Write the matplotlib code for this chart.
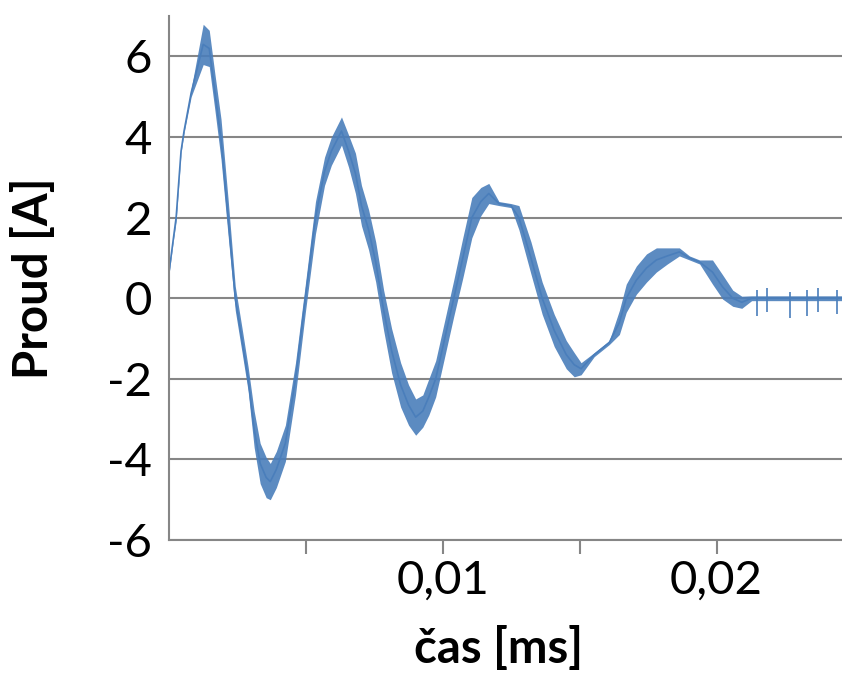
import matplotlib.pyplot as plt
import numpy as np

# cas [ms] a stredni hodnota proudu [A]
t = [0.0, 0.00015, 0.00026, 0.00044, 0.00055, 0.00081, 0.00103, 0.00125, 0.00147, 0.00168,
     0.0019, 0.00216, 0.00242, 0.00267, 0.00289, 0.00311, 0.00333, 0.00355, 0.0037, 0.00392,
     0.00425, 0.00462, 0.00498, 0.00535, 0.00568, 0.00593, 0.0063, 0.00656, 0.00681, 0.00703,
     0.00729, 0.00755, 0.00784, 0.00813, 0.00846, 0.00875, 0.00901, 0.00927, 0.00949, 0.00974,
     0.01007, 0.0104, 0.01073, 0.01106, 0.01139, 0.01168, 0.01205, 0.01249, 0.01278, 0.01322,
     0.01363, 0.01407, 0.01451, 0.0148, 0.01505, 0.01553, 0.01608, 0.01645, 0.0167, 0.01707,
     0.01744, 0.0178, 0.0182, 0.01864, 0.01901, 0.01938, 0.01985, 0.02022, 0.02059, 0.02092,
     0.02128, 0.02458]
proud = [0.64, 1.43, 2.0, 3.65, 4.15, 5.1, 5.7, 6.3, 6.2, 5.1,
         3.95, 2.0, 0.0, -1.05, -2.0, -3.25, -4.1, -4.45, -4.55, -4.25,
         -3.6, -2.0, 0.0, 2.0, 3.15, 3.65, 4.15, 3.65, 3.1, 2.3,
         1.7, 0.9, -0.3, -1.3, -2.15, -2.65, -2.95, -2.8, -2.45, -2.0,
         -1.0, 0.0, 1.0, 2.0, 2.4, 2.6, 2.35, 2.3, 2.0, 1.0,
         0.0, -0.8, -1.4, -1.65, -1.75, -1.4, -1.1, -0.6, 0.0, 0.45,
         0.75, 0.95, 1.05, 1.15, 1.0, 0.9, 0.65, 0.28, 0.0, -0.1,
         0.0, 0.0]
# sirka sumu (polovina) [A]
sum_w = [0.05, 0.05, 0.1, 0.05, 0.05, 0.1, 0.3, 0.5, 0.45, 0.45,
         0.5, 0.45, 0.3, 0.3, 0.3, 0.45, 0.5, 0.5, 0.45, 0.45,
         0.45, 0.4, 0.35, 0.4, 0.35, 0.35, 0.35, 0.4, 0.5, 0.5,
         0.5, 0.5, 0.5, 0.55, 0.55, 0.5, 0.45, 0.4, 0.45, 0.45,
         0.45, 0.45, 0.5, 0.5, 0.35, 0.25, 0.05, 0.05, 0.3, 0.4,
         0.4, 0.4, 0.35, 0.3, 0.15, 0.05, 0.05, 0.3, 0.35, 0.35,
         0.35, 0.3, 0.2, 0.1, 0.05, 0.05, 0.3, 0.3, 0.2, 0.15,
         0.06, 0.06]
# spicky na konci
spicky_t = [0.02147, 0.02183, 0.02267, 0.0233, 0.0237, 0.0244]
spicky_min = [-0.45, -0.35, -0.5, -0.45, -0.35, -0.4]
spicky_max = [0.2, 0.25, 0.15, 0.2, 0.25, 0.2]

t = np.array(t)
proud = np.array(proud)
sum_w = np.array(sum_w)

plt.rcParams['font.family'] = ['Lato', 'DejaVu Sans']
fig = plt.figure(figsize=(8.42, 6.75), dpi=100)
ax = fig.add_axes([0.2007, 0.2, 0.7993, 0.776])

modra = '#4a7ebb'
ax.fill_between(t, proud - sum_w, proud + sum_w, color=modra, lw=0, alpha=0.9)
ax.plot(t, proud, color=modra, linewidth=1.2)
ax.vlines(spicky_t, spicky_min, spicky_max, color=modra, linewidth=1.2)

ax.set_xlim(0, 0.02458)
ax.set_ylim(-6, 7)
ax.set_yticks([-6, -4, -2, 0, 2, 4, 6])
ax.set_yticklabels(['-6', '-4', '-2', '0', '2', '4', '6'])
ax.set_xticks([0.005, 0.01, 0.015, 0.02])
ax.set_xticklabels(['', '0,01', '', '0,02'])
ax.tick_params(axis='y', length=0, pad=12, labelsize=34)
ax.tick_params(axis='x', length=10, width=1.5, color='#868686', pad=4, labelsize=34)
ax.grid(axis='y', color='#868686', linewidth=1.5)
ax.set_axisbelow(True)
for s in ['top', 'right']:
    ax.spines[s].set_visible(False)
ax.spines['left'].set_color('#868686')
ax.spines['bottom'].set_color('#868686')
ax.spines['left'].set_linewidth(1.5)
ax.spines['bottom'].set_linewidth(1.5)

ax.set_xlabel('čas [ms]', fontsize=34, fontweight='bold')
ax.set_ylabel('Proud [A]', fontsize=34, fontweight='bold')
ax.xaxis.set_label_coords(0.49, -0.165)
ax.yaxis.set_label_coords(-0.168, 0.5)

plt.savefig('out.png')
